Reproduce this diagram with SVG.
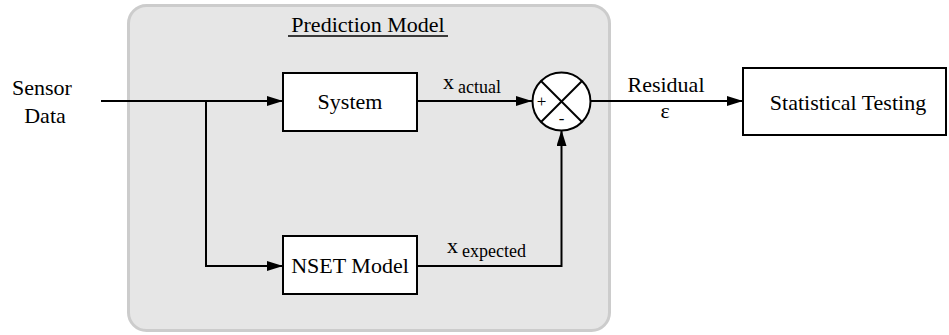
<svg xmlns="http://www.w3.org/2000/svg" width="949" height="335" viewBox="0 0 949 335">
  <style>
    text { font-family: "Liberation Serif", "Times New Roman", serif; fill: #000; }
    .lbl { font-size: 22px; }
    .sub { font-size: 18px; }
    .box { fill: #fff; stroke: #000; stroke-width: 2; }
    .wire { fill: none; stroke: #000; stroke-width: 2; marker-end: url(#arrow); }
    .plain { fill: none; stroke: #000; stroke-width: 2; }
  </style>
  <defs>
    <marker id="arrow" markerUnits="userSpaceOnUse" markerWidth="16" markerHeight="10" refX="16" refY="5" orient="auto">
      <path d="M0,0 L16,5 L0,10 z" fill="#000"/>
    </marker>
  </defs>
  <rect width="949" height="335" fill="#fff"/>

  <!-- Prediction model container -->
  <g id="prediction-model">
    <rect x="128.5" y="5.5" width="481" height="325" rx="18" ry="18" fill="#e6e6e6" stroke="#cccccc" stroke-width="3"/>
    <text class="lbl" x="368" y="32" text-anchor="middle">Prediction Model</text>
    <line x1="288" y1="36" x2="448" y2="36" stroke="#000" stroke-width="1.5"/>
  </g>

  <!-- Connectors -->
  <g id="connectors">
    <path class="wire" d="M101,101 H283"/>
    <path class="wire" d="M206,101 V266 H283"/>
    <path class="wire" d="M417,101 H532"/>
    <path class="wire" d="M417,266 H561.5 V130"/>
    <path class="wire" d="M590,101 H743"/>
  </g>

  <g id="sensor-data">
    <text class="lbl" x="42" y="95" text-anchor="middle">Sensor</text>
    <text class="lbl" x="45" y="123" text-anchor="middle">Data</text>
  </g>

  <g id="system">
    <rect class="box" x="283" y="73" width="134" height="58"/>
    <text class="lbl" x="350" y="109" text-anchor="middle">System</text>
  </g>

  <g id="nset-model">
    <rect class="box" x="283" y="236" width="134" height="58"/>
    <text class="lbl" x="350" y="273" text-anchor="middle">NSET Model</text>
  </g>

  <g id="x-actual-label">
    <text x="443" y="89"><tspan class="lbl">x</tspan><tspan class="sub" dx="4" dy="4">actual</tspan></text>
  </g>

  <g id="x-expected-label">
    <text x="447" y="253"><tspan class="lbl">x</tspan><tspan class="sub" dx="4" dy="4">expected</tspan></text>
  </g>

  <g id="summing-junction">
    <circle cx="561.5" cy="101.5" r="29" fill="#fff" stroke="#000" stroke-width="2"/>
    <line class="plain" x1="541" y1="81" x2="582" y2="122"/>
    <line class="plain" x1="582" y1="81" x2="541" y2="122"/>
    <text x="541.5" y="107" font-size="17" text-anchor="middle">+</text>
    <text x="561.5" y="124" font-size="17" text-anchor="middle">-</text>
  </g>

  <g id="residual-label">
    <text class="lbl" x="666" y="92" text-anchor="middle">Residual</text>
    <text class="lbl" x="665" y="118" text-anchor="middle">ε</text>
  </g>

  <g id="statistical-testing">
    <rect class="box" x="743" y="68" width="203" height="67"/>
    <text class="lbl" x="848" y="110" text-anchor="middle">Statistical Testing</text>
  </g>
</svg>
